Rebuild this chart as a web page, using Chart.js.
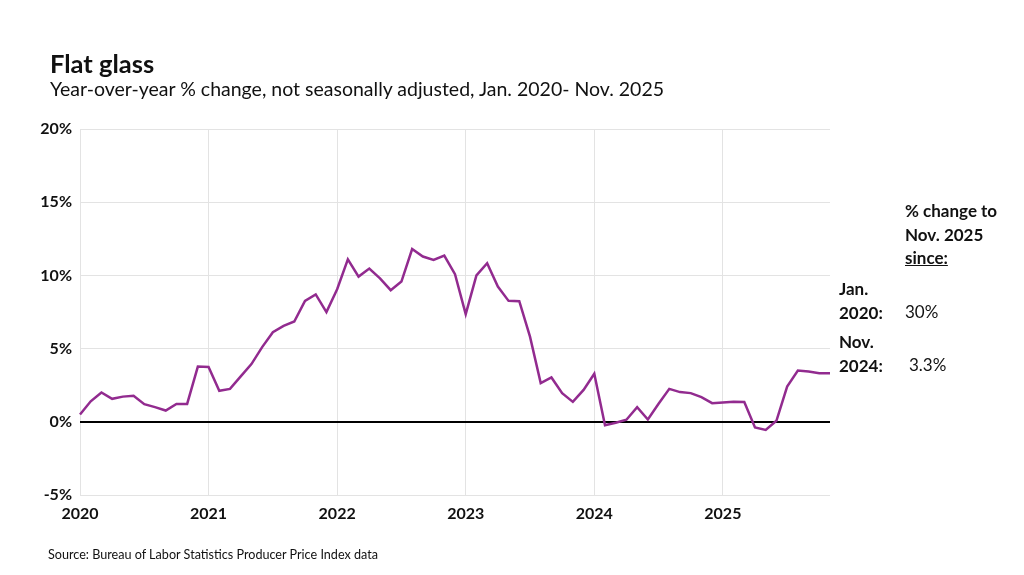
<!DOCTYPE html>
<html lang="en">
<head>
  <meta charset="UTF-8" />
  <title>Flat glass</title>
  <script src="https://cdn.jsdelivr.net/npm/chart.js"></script>
  <style>
    body {
      margin: 0;
      width: 1024px;
      height: 575px;
      background: #fff;
      font-family: Lato, sans-serif;
      color: #111;
      position: relative;
      overflow: hidden;
    }

    #wrap {
      position: absolute;
      left: 0;
      top: 0;
      width: 1024px;
      height: 575px;
    }

    .txt {
      position: absolute;
      white-space: nowrap;
    }

    .title { left: 50px; top: 48px; font-size: 25.5px; line-height: 30px; font-weight: bold; }
    .subtitle { left: 50px; top: 78px; font-size: 19.5px; line-height: 22px; }
    .source { left: 48px; top: 547px; font-size: 12.6px; line-height: 16px; }
    .note { font-size: 17px; line-height: 23.5px; font-weight: bold; }
    .val { font-size: 17px; line-height: 23.5px; }
  </style>
</head>
<body>

  <div id="wrap"><canvas id="glassChart"></canvas></div>

  <div class="txt title">Flat glass</div>
  <div class="txt subtitle">Year-over-year % change, not seasonally adjusted, Jan. 2020- Nov. 2025</div>
  <div class="txt source">Source: Bureau of Labor Statistics Producer Price Index data</div>

  <div class="txt note" style="left:905px; top:199px;">% change to<br>Nov. 2025<br><u>since:</u></div>
  <div class="txt note" style="left:839px; top:277px;">Jan.<br>2020:</div>
  <div class="txt val" style="left:905px; top:300px;">30%</div>
  <div class="txt note" style="left:839px; top:330px;">Nov.<br>2024:</div>
  <div class="txt val" style="left:909px; top:353px;">3.3%</div>

  <script>
    const years = [2020, 2021, 2022, 2023, 2024, 2025];
    const months = ["01", "02", "03", "04", "05", "06", "07", "08", "09", "10", "11", "12"];
    const yTicks = [-5, 0, 5, 10, 15, 20];

    // year-over-year % change, Jan 2020 .. Nov 2025
    const change2020 = [0.5, 1.4, 2.0, 1.57, 1.72, 1.78, 1.2, 1.0, 0.77, 1.22, 1.22, 3.77];
    const change2021 = [3.75, 2.12, 2.25, 3.1, 3.94, 5.1, 6.12, 6.55, 6.85, 8.26, 8.7, 7.49];
    const change2022 = [9.06, 11.1, 9.92, 10.47, 9.8, 8.99, 9.58, 11.8, 11.29, 11.06, 11.35, 10.08];
    const change2023 = [7.35, 10.0, 10.83, 9.24, 8.26, 8.24, 5.82, 2.64, 3.03, 1.96, 1.36, 2.18];
    const change2024 = [3.28, -0.23, -0.07, 0.14, 1.0, 0.16, 1.23, 2.25, 2.03, 1.96, 1.68, 1.27];
    const change2025 = [1.32, 1.37, 1.35, -0.39, -0.55, 0.07, 2.41, 3.5, 3.43, 3.32, 3.32];

    const values = [].concat(change2020, change2021, change2022, change2023, change2024, change2025);
    const labels = years.flatMap(y => months.map(m => y + "-" + m)).slice(0, values.length);

    Chart.defaults.font.family = "Lato, sans-serif";
    Chart.defaults.color = "#111";

    new Chart(document.getElementById("glassChart"), {
      type: "line",
      data: {
        labels: labels,
        datasets: [{
          data: values,
          borderColor: "#922b8f",
          borderWidth: 2.5,
          pointRadius: 0,
          tension: 0,
          fill: false
        }]
      },
      options: {
        responsive: true,
        maintainAspectRatio: false,
        animation: false,
        layout: {
          padding: { left: 0, top: 129, right: 194, bottom: 0 }
        },
        plugins: {
          legend: { display: false },
          tooltip: { enabled: false }
        },
        scales: {
          x: {
            type: "category",
            border: { display: false },
            grid: {
              drawTicks: false,
              color: ctx => (ctx.index % 12 === 0 ? "#e3e3e3" : "rgba(0,0,0,0)"),
              lineWidth: 1
            },
            ticks: {
              autoSkip: false,
              maxRotation: 0,
              padding: 9,
              font: { size: 16, weight: "bold" },
              callback: (val, i) => (labels[i].endsWith("-01") ? labels[i].slice(0, 4) : "")
            },
            afterFit: scale => { scale.height = 80; }
          },
          y: {
            min: yTicks[0],
            max: yTicks[yTicks.length - 1],
            border: { display: false },
            afterBuildTicks: scale => { scale.ticks = yTicks.map(v => ({ value: v })); },
            grid: {
              drawTicks: false,
              color: ctx => (ctx.tick && ctx.tick.value === 0 ? "#000" : "#e3e3e3"),
              lineWidth: ctx => (ctx.tick && ctx.tick.value === 0 ? 2 : 1)
            },
            ticks: {
              padding: 8,
              font: { size: 16, weight: "bold" },
              callback: v => v + "%"
            },
            afterFit: scale => { scale.width = 80; }
          }
        }
      }
    });
  </script>

</body>
</html>
